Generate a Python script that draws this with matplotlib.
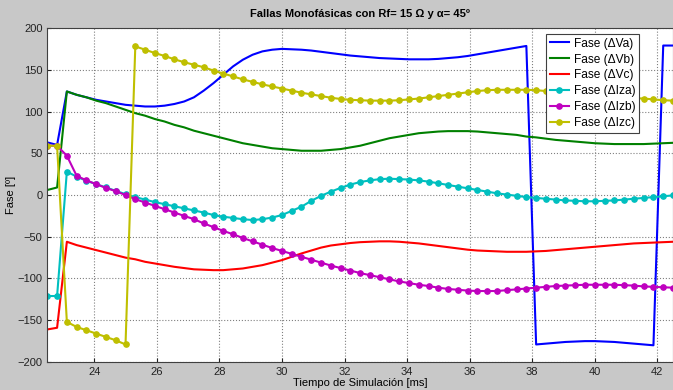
import numpy as np
import matplotlib
matplotlib.use("Agg")
import matplotlib.pyplot as plt

plt.rcParams['font.family'] = ['Liberation Sans', 'DejaVu Sans']

# muestras cada 0.3125 ms desde 22.5 ms
t = np.arange(65) * 0.3125 + 22.5

va = [63, 60, 124, 120, 117, 114, 112, 110, 108, 107,
      106, 106, 107, 109, 112, 117, 125, 134, 144, 154,
      162, 168, 172, 174, 175, 174.5, 174, 173, 171.5, 170,
      168.5, 167, 166, 165, 164, 163.5, 163, 162.5, 162.5, 162.5,
      163, 164, 165, 166.5, 168.5, 170.5, 172.5, 174.5, 176.5, 178.5,
      -179, -178, -177, -176, -175.5, -175, -175, -175.5, -176, -177,
      -178, -179, -180, 179, 179]
vb = [6, 9, 124, 120, 117, 113, 110, 106, 102, 98,
      95, 91, 88, 84, 81, 77, 74, 71, 68, 65,
      62, 60, 58, 56, 55, 54, 53, 53, 53, 54,
      55, 57, 59, 62, 65, 68, 70, 72, 74, 75,
      76, 76.5, 76.5, 76.5, 76, 75, 74, 73, 72, 70,
      69, 67.5, 66, 65, 64, 63, 62, 61.5, 61, 61,
      61, 61, 61.5, 62, 62.5]
vc = [-161, -159, -56, -60, -63, -66, -69, -72, -75, -77,
      -80, -82, -84, -86, -87.5, -89, -89.5, -90, -90, -89,
      -88, -86, -84, -81, -78, -74, -70, -66.5, -63, -60.5,
      -59, -57.5, -56.5, -56, -55.5, -55.5, -56, -57, -58, -59.5,
      -61, -62.5, -64, -65.5, -66.5, -67, -67.5, -68, -68, -68,
      -67.5, -67, -66, -65, -64, -63, -62, -61, -60, -59,
      -58, -57.5, -57, -56.5, -56]
iza = [-121, -121, 28, 22, 17, 13, 9, 5, 1, -2.5,
       -5.5, -8.5, -11, -13.5, -16, -18.5, -21, -24, -26, -27.5,
       -29, -30, -29, -27, -24, -19, -14, -7, -1, 4,
       8.5, 12.5, 15.5, 17.5, 19, 19.5, 19, 18.5, 17.5, 16,
       14, 12, 10, 8, 6, 4, 2, 0.5, -1, -2.5,
       -3.5, -4.5, -5.5, -6.5, -7, -7.5, -7.5, -7, -6.5, -5.5,
       -4.5, -3.5, -2.5, -1.5, -0.5]
izb = [59, 59, 47, 23, 17.5, 13, 8.5, 4.5, 0, -5,
       -9, -13, -17, -21, -25, -29, -34, -38.5, -43, -47,
       -51.5, -55.5, -59.5, -63.5, -67, -70.5, -74, -77.5, -81, -84.5,
       -87.5, -90.5, -93.5, -96, -98.5, -101, -103.5, -105.5, -107.5, -109,
       -111, -112.5, -113.5, -114.5, -115, -115, -115, -114, -113, -112,
       -111, -110, -109, -108.5, -108, -107.5, -107.5, -107.5, -107.5, -108,
       -108.5, -109.5, -110, -110.5, -111]
izc = [59, 59, -152, -158, -162, -166, -170, -174, -179, 178,
       174, 170, 166.5, 162.5, 159, 156, 153, 149, 145.5, 142,
       138.5, 135.5, 132.5, 130, 127.5, 125, 122.5, 120.5, 118.5, 116.5,
       115, 114, 113.5, 113, 113, 113, 113.5, 114.5, 115.5, 117,
       118.5, 120, 121.5, 123, 124.5, 125.5, 126, 126, 126, 126,
       125.5, 124.5, 124, 123, 122, 121, 120, 119, 118, 117,
       116, 115.5, 114.5, 113.5, 113]

fig = plt.figure(figsize=(6.73, 3.90), dpi=100, facecolor='#c8c8c8')
ax = fig.add_axes([0.0703, 0.0718, 0.9297, 0.8564])
ax.set_facecolor('white')

lw = 1.5
ms = 3.8
ax.plot(t, va, color='#0000ff', lw=lw, label='Fase (ΔVa)')
ax.plot(t, vb, color='#008000', lw=lw, label='Fase (ΔVb)')
ax.plot(t, vc, color='#ff0000', lw=lw, label='Fase (ΔVc)')
ax.plot(t, iza, color='#00bfbf', lw=lw, marker='o', ms=ms, label='Fase (ΔIza)')
ax.plot(t, izb, color='#bf00bf', lw=lw, marker='o', ms=ms, label='Fase (ΔIzb)')
ax.plot(t, izc, color='#bfbf00', lw=lw, marker='o', ms=ms, label='Fase (ΔIzc)')

ax.set_xlim(22.5, 42.5)
ax.set_ylim(-200, 200)
ax.set_xticks(np.arange(24, 43, 2))
ax.set_yticks(np.arange(-200, 201, 50))
ax.grid(True, linestyle=':', color='#808080', lw=0.8)
ax.tick_params(direction='in', labelsize=8, length=3, colors='#222222')
for s in ax.spines.values():
    s.set_color('#404040')
    s.set_linewidth(0.8)

ax.set_title('Fallas Monofásicas con Rf= 15 Ω y α= 45º', fontsize=8,
             fontweight='bold', pad=8)
ax.set_xlabel('Tiempo de Simulación [ms]', fontsize=8, labelpad=1)
ax.set_ylabel('Fase [º]', fontsize=8, labelpad=1)

leg = ax.legend(loc='upper right', bbox_to_anchor=(639 / 673, 1 - 34 / 390),
                bbox_transform=fig.transFigure, borderaxespad=0,
                fontsize=8.6, numpoints=1,
                handlelength=1.6, handletextpad=0.4, labelspacing=0.33,
                borderpad=0.3, fancybox=False, framealpha=1,
                edgecolor='#404040')
leg.get_frame().set_linewidth(0.8)

fig.savefig('out.png', dpi=100, facecolor=fig.get_facecolor())
